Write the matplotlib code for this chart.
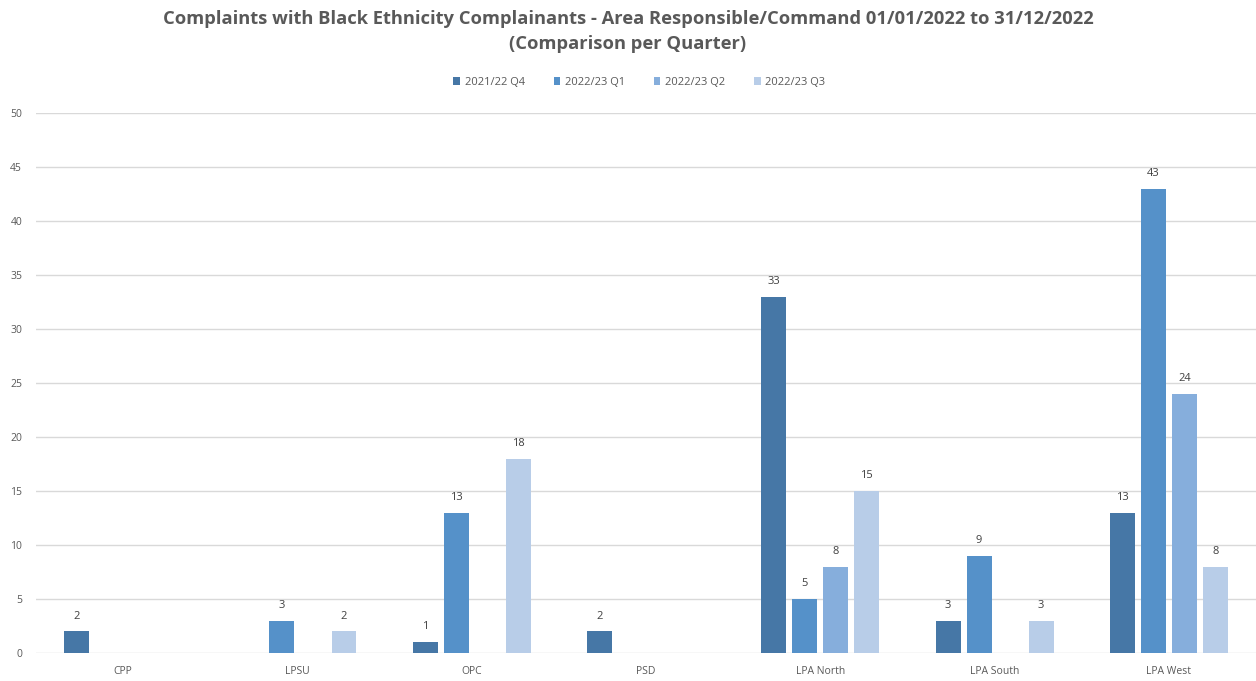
import numpy as np
import matplotlib.pyplot as plt

categories = ["CPP", "LPSU", "OPC", "PSD", "LPA North", "LPA South", "LPA West"]
series_names = ["2021/22 Q4", "2022/23 Q1", "2022/23 Q2", "2022/23 Q3"]
q4_2122 = [2, 0, 1, 2, 33, 3, 13]
q1_2223 = [0, 3, 13, 0, 5, 9, 43]
q2_2223 = [0, 0, 0, 0, 8, 0, 24]
q3_2223 = [0, 2, 18, 0, 15, 3, 8]
yticks = [0, 5, 10, 15, 20, 25, 30, 35, 40, 45, 50]

colors = ["#4677A6", "#5591C9", "#86AEDC", "#B8CDE8"]
plt.rcParams["font.family"] = ["Open Sans", "DejaVu Sans"]

fig = plt.figure(figsize=(12.56, 6.81), dpi=100)
ax = fig.add_axes([0.0287, 0.0411, 0.9713, 0.7929])

x = np.arange(len(categories))
step, width = 0.178, 0.143
for i, (vals, name, col) in enumerate(zip([q4_2122, q1_2223, q2_2223, q3_2223], series_names, colors)):
    pos = x + (i - 1.5) * step
    ax.bar(pos, vals, width, color=col, label=name, zorder=3)
    for p, v in zip(pos, vals):
        if v > 0:
            ax.annotate(str(v), (p, v), xytext=(0, 7), textcoords="offset points",
                        ha="center", va="bottom", fontsize=8, color="#404040")

ax.set_xlim(-0.5, len(categories) - 0.5)
ax.set_ylim(0, 50)
ax.set_yticks(yticks)
ax.set_xticks(x)
ax.set_xticklabels(categories)
ax.tick_params(axis="both", length=0, labelsize=7.5, labelcolor="#595959")
ax.tick_params(axis="y", pad=10)
ax.tick_params(axis="x", pad=9)
ax.grid(axis="y", color="#D9D9D9", linewidth=1, zorder=0)
for s in ax.spines.values():
    s.set_visible(False)

fig.text(0.5, 0.985, "Complaints with Black Ethnicity Complainants - Area Responsible/Command 01/01/2022 to 31/12/2022\n(Comparison per Quarter)",
         ha="center", va="top", fontsize=13.2, fontweight="bold", color="#595959", linespacing=1.45)
fig.legend(loc="center", bbox_to_anchor=(0.509, 0.879), ncol=4, frameon=False, fontsize=8,
           handlelength=0.6, handleheight=0.6, handletextpad=0.4, columnspacing=2.6,
           labelcolor="#595959")

fig.savefig("out.png", dpi=100, facecolor="white")
